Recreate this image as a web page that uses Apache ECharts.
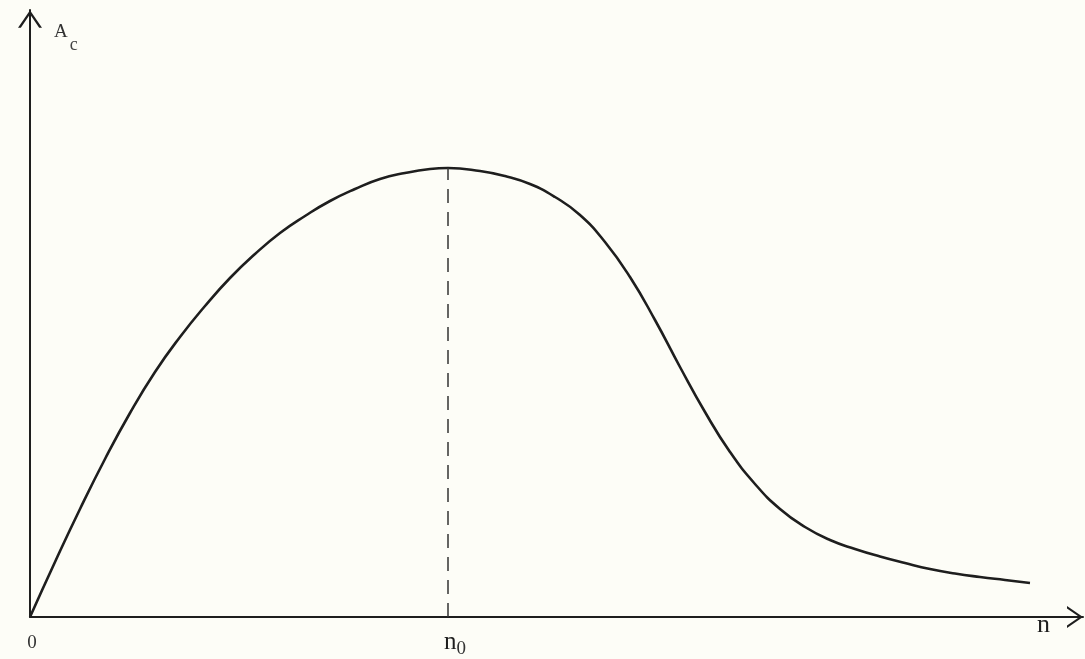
<!DOCTYPE html>
<html>
<head>
<meta charset="utf-8">
<script src="https://cdn.jsdelivr.net/npm/echarts@6/dist/echarts.min.js"></script>
<style>
  html, body { margin: 0; padding: 0; background: #fdfdf7; }
  #chart { width: 1085px; height: 659px; }
</style>
</head>
<body>
<div id="chart"></div>
<script>
// Curve: n (horizontal) and A_c (vertical), arbitrary units
const nValues = [0, 25, 50, 75, 100, 125, 150, 175, 200, 225, 250, 275, 300, 325, 350, 375, 400, 418,
                 450, 475, 500, 525, 550, 575, 600, 625, 650, 675, 700, 725, 750, 775, 800, 825,
                 850, 875, 900, 925, 950, 975, 1000];
const acValues = [0, 55, 108, 158, 204, 245, 280, 311, 339, 363, 384, 401, 416, 428, 438, 444, 448, 449,
                  446, 441, 433, 420, 402, 375, 340, 297, 250, 205, 165, 133, 108, 90, 77, 68,
                  60.5, 54, 48, 43.5, 40, 37, 34];
const xAxisName = 'n';
const yAxisName = ['A', 'c'];
const originLabel = '0';
const peakLabel = ['n', '0'];

// position of the maximum (n0)
let peakIdx = 0;
acValues.forEach((v, i) => { if (v > acValues[peakIdx]) peakIdx = i; });
const peakN = nValues[peakIdx];
const peakA = acValues[peakIdx];

const curve = nValues.map((n, i) => [n, acValues[i]]);

const ink = '#1e1e1e';
const chevron = 'path://M0,16 L11,0 L22,16 L19.4,16 L11,3.6 L2.6,16 Z';
const serif = '"Liberation Serif", "DejaVu Serif", serif';

const chart = echarts.init(document.getElementById('chart'), null, { renderer: 'canvas' });
chart.setOption({
  backgroundColor: '#fdfdf7',
  animation: false,
  grid: { left: 30, right: 2, top: 10, bottom: 42, containLabel: false },
  xAxis: {
    type: 'value',
    min: 0,
    max: 1053,
    name: xAxisName,
    nameLocation: 'end',
    nameGap: -46,
    nameTextStyle: {
      color: ink, fontFamily: serif, fontSize: 26,
      align: 'left', verticalAlign: 'top', padding: [-5, 0, 0, 0]
    },
    axisLine: {
      show: true,
      lineStyle: { color: ink, width: 2 },
      symbol: ['none', chevron],
      symbolSize: [22, 16],
      symbolOffset: [0, -8]
    },
    axisTick: { show: false },
    splitLine: { show: false },
    axisLabel: {
      show: true,
      customValues: [0, peakN],
      margin: 9,
      color: ink,
      fontFamily: serif,
      formatter: function (v) {
        if (v === 0) return '{o|' + originLabel + '}';
        return '{n|' + peakLabel[0] + '}{s|' + peakLabel[1] + '}';
      },
      rich: {
        o: { fontFamily: serif, fontSize: 19, color: '#333', padding: [8, 0, 0, 4] },
        n: { fontFamily: serif, fontSize: 25, color: ink, padding: [0, 0, 0, 14] },
        s: { fontFamily: serif, fontSize: 19, color: '#333', padding: [14, 0, 0, 0] }
      }
    }
  },
  yAxis: {
    type: 'value',
    min: 0,
    max: 607,
    name: '{a|' + yAxisName[0] + '}{c|' + yAxisName[1] + '}',
    nameLocation: 'end',
    nameGap: -44,
    nameTextStyle: {
      align: 'left',
      padding: [0, 0, 0, 24],
      rich: {
        a: { fontFamily: serif, fontSize: 19, color: '#333' },
        c: { fontFamily: serif, fontSize: 18, color: '#444', padding: [26, 0, 0, 2] }
      }
    },
    axisLine: {
      show: true,
      lineStyle: { color: ink, width: 2 },
      symbol: ['none', chevron],
      symbolSize: [24, 18],
      symbolOffset: [0, -9]
    },
    axisTick: { show: false },
    splitLine: { show: false },
    axisLabel: { show: false }
  },
  series: [{
    type: 'line',
    data: curve,
    smooth: 0.5,
    showSymbol: false,
    symbol: 'none',
    lineStyle: { color: ink, width: 2.6 },
    markLine: {
      silent: true,
      symbol: ['none', 'none'],
      label: { show: false },
      lineStyle: { color: '#333', width: 1.5, type: [14, 9] },
      data: [[{ coord: [peakN, 0] }, { coord: [peakN, peakA] }]]
    }
  }]
});
</script>
</body>
</html>
